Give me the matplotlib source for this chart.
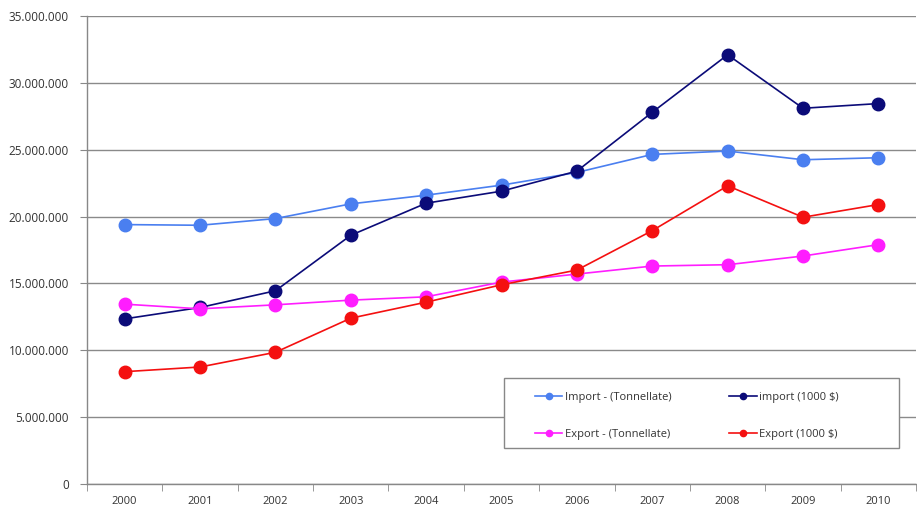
import matplotlib
matplotlib.use("Agg")
import matplotlib.pyplot as plt
from matplotlib.ticker import FuncFormatter, FixedLocator
from matplotlib.patches import Rectangle
import numpy as np

years = ["2000", "2001", "2002", "2003", "2004", "2005", "2006", "2007", "2008", "2009", "2010"]
import_tonn = [19.4e6, 19.35e6, 19.85e6, 20.95e6, 21.6e6, 22.35e6, 23.3e6, 24.65e6, 24.9e6, 24.25e6, 24.4e6]
import_usd = [12.35e6, 13.2e6, 14.45e6, 18.6e6, 21.0e6, 21.9e6, 23.4e6, 27.8e6, 32.1e6, 28.1e6, 28.45e6]
export_tonn = [13.45e6, 13.1e6, 13.4e6, 13.75e6, 14.0e6, 15.1e6, 15.7e6, 16.3e6, 16.4e6, 17.05e6, 17.9e6]
export_usd = [8.4e6, 8.75e6, 9.85e6, 12.4e6, 13.6e6, 14.9e6, 16.0e6, 18.95e6, 22.3e6, 19.95e6, 20.9e6]

labels = ["Import - (Tonnellate)", "import (1000 $)", "Export - (Tonnellate)", "Export (1000 $)"]
colors = ["#4a7ff0", "#0b0b78", "#ff1dff", "#f41010"]

plt.rcParams['font.family'] = ['Open Sans', 'DejaVu Sans']

W, H = 917, 509
fig = plt.figure(figsize=(W / 100, H / 100), dpi=100)
ax = fig.add_axes([87/W, 1-484/H, 1-87/W-0.001, (484-16)/H])

x = np.arange(len(years))
series = [import_tonn, import_usd, export_tonn, export_usd]
for s, c, l in zip(series, colors, labels):
    ax.plot(x, s, color=c, lw=1.2, marker='o', ms=9, mec=c, mfc=c, label=l, zorder=3)

ax.set_xlim(-0.5, len(years) - 0.5)
ax.set_ylim(0, 35e6)
ax.yaxis.set_major_locator(FixedLocator(np.arange(0, 35e6 + 1, 5e6)))
ax.yaxis.set_major_formatter(FuncFormatter(lambda v, p: f"{int(v):,}".replace(",", ".")))
ax.set_xticks(x)
ax.set_xticklabels(years)
ax.set_xticks(np.arange(-0.5, len(years) + 0.5, 1), minor=True)
ax.tick_params(axis='x', which='major', length=0, pad=9, labelsize=8, colors='#333333')
ax.tick_params(axis='x', which='minor', length=5, color='#888888')
ax.tick_params(axis='y', length=5, color='#888888', labelsize=8.5, labelcolor='#333333', pad=8)

ax.grid(axis='y', color='#8a8a8a', lw=1.0, zorder=0)
ax.set_axisbelow(True)
for sp in ['top', 'right']:
    ax.spines[sp].set_visible(False)
for sp in ['left', 'bottom']:
    ax.spines[sp].set_color('#888888')
    ax.spines[sp].set_linewidth(1.0)

# legend frame
fig.patches.append(Rectangle((504/W, 1-448/H), (899-504)/W, (448-378)/H,
                             transform=fig.transFigure, facecolor='white',
                             edgecolor='#888888', lw=1.0, zorder=5))

leg_handles = {}
for c, l in zip(colors, labels):
    leg_handles[l] = plt.Line2D([], [], color=c, lw=1.2, marker='o', ms=4.5, mfc=c, mec=c, label=l)
order = [labels[0], labels[2], labels[1], labels[3]]
leg = fig.legend(handles=[leg_handles[k] for k in order], ncol=2, loc='upper left',
                 bbox_to_anchor=(535/W, 1-392/H), bbox_transform=fig.transFigure,
                 fontsize=8, frameon=False,
                 handlelength=2.45, handletextpad=0.25, borderpad=0, labelspacing=2.3,
                 columnspacing=5.2, borderaxespad=0)
leg.set_zorder(6)
for t in leg.get_texts():
    t.set_color('#333333')

fig.savefig("out.png", dpi=100)
